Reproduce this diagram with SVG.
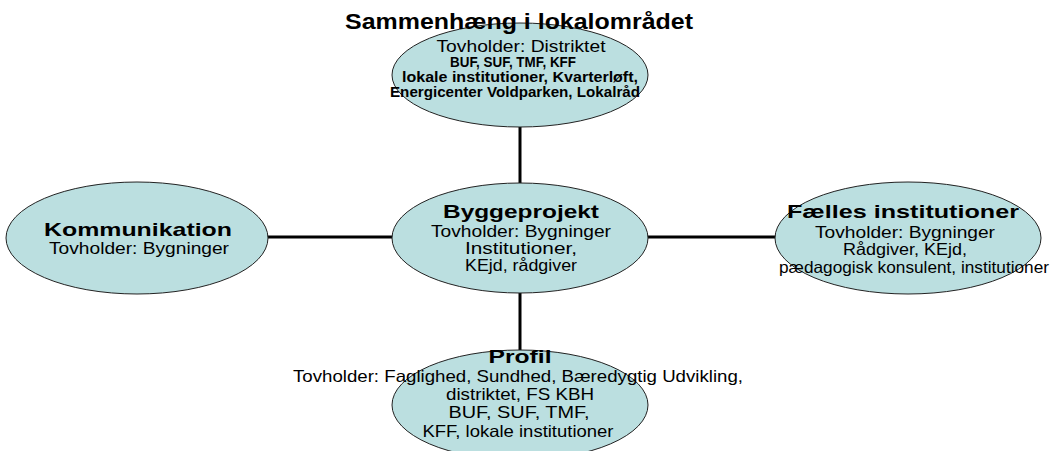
<svg xmlns="http://www.w3.org/2000/svg" width="1050" height="451" viewBox="0 0 1050 451">
<defs>
<style>
.bg{fill:#ffffff}
.el{fill:#bbdfe0;stroke:#222222;stroke-width:1}
.con line{stroke:#000000;stroke-width:3}
text{font-family:"Liberation Sans",Arial,sans-serif;fill:#000000;text-anchor:middle}
.h{font-weight:bold;font-size:19px}
.t{font-size:16.5px}
.s{font-weight:bold;font-size:14px}
.big{font-weight:bold;font-size:22px}
</style>
</defs>
<rect class="bg" x="0" y="0" width="1050" height="451"/>
<g id="connectors" class="con">
<line x1="520" y1="127" x2="520" y2="183"/>
<line x1="520" y1="293" x2="520" y2="350"/>
<line x1="267" y1="237" x2="393" y2="237"/>
<line x1="647" y1="237" x2="776" y2="237"/>
</g>
<g id="node-sammenhaeng">
<ellipse class="el" cx="520" cy="75" rx="128" ry="52"/>
<text class="big" x="519" y="29" textLength="348" lengthAdjust="spacingAndGlyphs">Sammenhæng i lokalområdet</text>
<text class="t" x="521" y="52" textLength="169" lengthAdjust="spacingAndGlyphs">Tovholder: Distriktet</text>
<text class="s" x="513" y="67" textLength="126" lengthAdjust="spacingAndGlyphs">BUF, SUF, TMF, KFF</text>
<text class="s" x="520" y="82" textLength="236" lengthAdjust="spacingAndGlyphs">lokale institutioner, Kvarterløft,</text>
<text class="s" x="515" y="97" textLength="250" lengthAdjust="spacingAndGlyphs">Energicenter Voldparken, Lokalråd</text>
</g>
<g id="node-byggeprojekt">
<ellipse class="el" cx="520" cy="238" rx="128" ry="55"/>
<text class="h" x="521" y="218" textLength="156" lengthAdjust="spacingAndGlyphs">Byggeprojekt</text>
<text class="t" x="521" y="237" textLength="180" lengthAdjust="spacingAndGlyphs">Tovholder: Bygninger</text>
<text class="t" x="521" y="254" textLength="112" lengthAdjust="spacingAndGlyphs">Institutioner,</text>
<text class="t" x="521" y="271" textLength="112" lengthAdjust="spacingAndGlyphs">KEjd, rådgiver</text>
</g>
<g id="node-kommunikation">
<ellipse class="el" cx="137" cy="238" rx="131" ry="56"/>
<text class="h" x="138" y="236" textLength="188" lengthAdjust="spacingAndGlyphs">Kommunikation</text>
<text class="t" x="139" y="254" textLength="180" lengthAdjust="spacingAndGlyphs">Tovholder: Bygninger</text>
</g>
<g id="node-faelles">
<ellipse class="el" cx="908" cy="238" rx="133" ry="56"/>
<text class="h" x="903" y="218" textLength="232" lengthAdjust="spacingAndGlyphs">Fælles institutioner</text>
<text class="t" x="905" y="238" textLength="180" lengthAdjust="spacingAndGlyphs">Tovholder: Bygninger</text>
<text class="t" x="905" y="255" textLength="124" lengthAdjust="spacingAndGlyphs">Rådgiver, KEjd,</text>
<text class="t" x="914" y="273" textLength="270" lengthAdjust="spacingAndGlyphs">pædagogisk konsulent, institutioner</text>
</g>
<g id="node-profil">
<ellipse class="el" cx="520" cy="405" rx="128" ry="55"/>
<text class="h" x="520" y="363" textLength="63" lengthAdjust="spacingAndGlyphs">Profil</text>
<text class="t" x="518" y="382" textLength="450" lengthAdjust="spacingAndGlyphs">Tovholder: Faglighed, Sundhed, Bæredygtig Udvikling,</text>
<text class="t" x="520" y="400" textLength="148" lengthAdjust="spacingAndGlyphs">distriktet, FS KBH</text>
<text class="t" x="519" y="418" textLength="141" lengthAdjust="spacingAndGlyphs">BUF, SUF, TMF,</text>
<text class="t" x="518" y="437" textLength="191" lengthAdjust="spacingAndGlyphs">KFF, lokale institutioner</text>
</g>
</svg>
